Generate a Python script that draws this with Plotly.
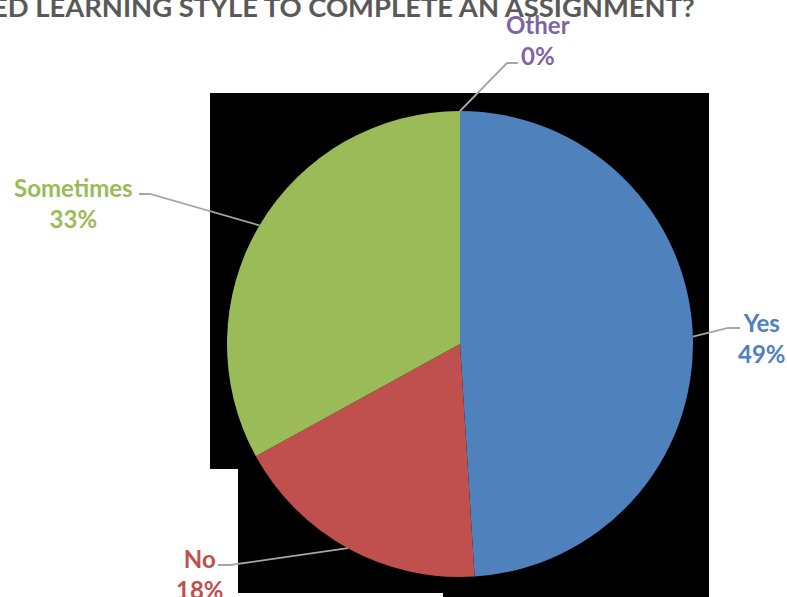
import math
import plotly.graph_objects as go

# Survey responses
categories = ["Yes", "No", "Sometimes", "Other"]
values = [49, 18, 33, 0]
colors = ["#4F81BD", "#C0504D", "#9BBB59", "#8064A2"]
title_text = "ED LEARNING STYLE TO COMPLETE AN ASSIGNMENT?"

W, H = 787, 597
FONT = "Lato"

# Pie placement in pixels (centre and radius)
CX, CY, R = 460, 344, 233

# Label layout: elbow of the leader line, end of the horizontal tick, label centre
label_layout = {
    "Yes":       dict(elbow=(728, 328), tick=(740, 328), text=(762, 338)),
    "No":        dict(elbow=(230, 565), tick=(218, 565), text=(200, 574)),
    "Sometimes": dict(elbow=(150, 194), tick=(139, 194), text=(73, 203)),
    "Other":     dict(elbow=(507, 63), tick=(518, 63), text=(538, 40)),
}

fig = go.Figure()

fig.add_trace(go.Pie(
    labels=categories,
    values=values,
    sort=False,
    direction="clockwise",
    rotation=0,
    marker=dict(colors=colors, line=dict(width=0)),
    textinfo="none",
    hoverinfo="label+percent",
    showlegend=False,
    domain=dict(x=[(CX - R) / W, (CX + R) / W],
                y=[1 - (CY + R) / H, 1 - (CY - R) / H]),
))

# Black backdrop panels behind the pie
backdrop = [
    (210, 93, 709, 469),
    (238, 93, 709, 593),
    (443, 93, 709, 597),
]
shapes = []
for x0, y0, x1, y1 in backdrop:
    shapes.append(dict(type="rect", xref="x", yref="y", x0=x0, y0=y0, x1=x1, y1=y1,
                       fillcolor="black", line=dict(width=0), layer="below"))

annotations = []
total = sum(values)
cum = 0.0
for name, val, col in zip(categories, values, colors):
    mid = (cum + val / 2) / total * 2 * math.pi
    cum += val
    ex = CX + R * math.sin(mid)
    ey = CY - R * math.cos(mid)
    lay = label_layout[name]
    (bx, by), (tx, ty), (lx, ly) = lay["elbow"], lay["tick"], lay["text"]
    shapes.append(dict(type="path", xref="x", yref="y",
                       path=f"M {ex:.1f},{ey:.1f} L {bx},{by} L {tx},{ty}",
                       line=dict(color="#A6A6A6", width=1.8)))
    pct = round(val / total * 100)
    annotations.append(dict(xref="x", yref="y", x=lx, y=ly, xanchor="center", yanchor="middle",
                            text=f"<b>{name}<br>{pct}%</b>", showarrow=False, align="center",
                            font=dict(family=FONT, size=24, color=col)))

annotations.insert(0, dict(xref="x", yref="y", x=697, y=6, xanchor="right", yanchor="middle",
                           text=f"<b>{title_text}</b>", showarrow=False,
                           font=dict(family=FONT, size=27.4, color="#595959")))

fig.update_layout(
    width=W, height=H,
    margin=dict(l=0, r=0, t=0, b=0),
    paper_bgcolor="white", plot_bgcolor="rgba(0,0,0,0)",
    xaxis=dict(range=[0, W], visible=False, fixedrange=True),
    yaxis=dict(range=[H, 0], visible=False, fixedrange=True),
    shapes=shapes,
    annotations=annotations,
)

fig.write_html("out.html")
